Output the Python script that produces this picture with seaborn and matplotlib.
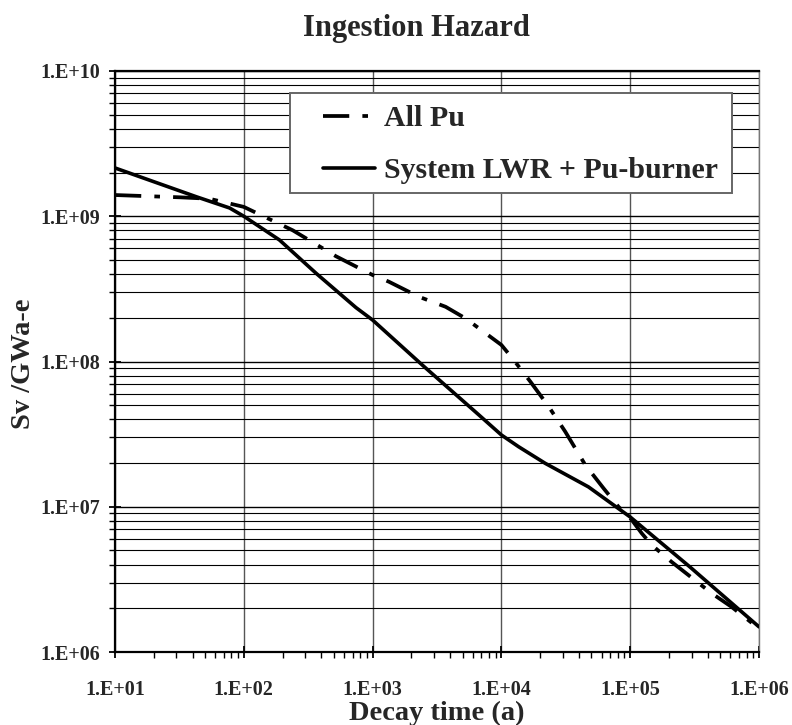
import numpy as np
import pandas as pd
import matplotlib
matplotlib.use("Agg")
import matplotlib.pyplot as plt
import seaborn as sns
from matplotlib.ticker import LogLocator, FixedLocator, FixedFormatter, NullFormatter
from matplotlib.patches import Rectangle

# ---- data ----
all_pu_time = [10, 20, 32, 54, 100, 240, 520, 1000, 1340, 2290, 3690, 5270,
               10000, 12400, 16800, 23300, 31300, 44800, 62100, 81100,
               103000, 123000, 147000, 209000, 428000, 610000, 1000000]
all_pu_sv = [1.40e9, 1.37e9, 1.35e9, 1.32e9, 1.16e9, 8.0e8, 5.3e8, 3.94e8, 3.54e8,
             2.79e8, 2.38e8, 1.98e8, 1.30e8, 1.03e8, 7.26e7, 4.89e7, 3.29e7,
             1.94e7, 1.34e7, 1.0e7, 8.1e6, 6.56e6, 5.45e6, 4.18e6, 2.54e6,
             2.05e6, 1.45e6]

system_time = [10, 43, 77.6, 100, 189, 364, 743, 1000, 2430, 6680, 10000, 13600,
               21900, 47400, 100000, 290000, 1000000]
system_sv = [2.15e9, 1.36e9, 1.14e9, 1.0e9, 6.87e8, 4.05e8, 2.35e8, 1.93e8, 9.46e7,
             4.29e7, 3.12e7, 2.59e7, 1.99e7, 1.37e7, 8.5e6, 3.86e6, 1.49e6]

series_names = ["All Pu", "System LWR + Pu-burner"]
x_ticks = [1e1, 1e2, 1e3, 1e4, 1e5, 1e6]
x_tick_labels = ["1.E+01", "1.E+02", "1.E+03", "1.E+04", "1.E+05", "1.E+06"]
y_ticks = [1e6, 1e7, 1e8, 1e9, 1e10]
y_tick_labels = ["1.E+06", "1.E+07", "1.E+08", "1.E+09", "1.E+10"]
title = "Ingestion Hazard"
x_label = "Decay time (a)"
y_label = "Sv /GWa-e"

df_pu = pd.DataFrame({"t": all_pu_time, "sv": all_pu_sv})
df_sys = pd.DataFrame({"t": system_time, "sv": system_sv})

sns.set_theme(style="white")
plt.rcParams["font.family"] = ["Liberation Serif", "DejaVu Serif"]
plt.rcParams["font.weight"] = "bold"

W, H = 792, 725
fig = plt.figure(figsize=(W / 100, H / 100), dpi=100)
L, R, T, B = 115, 759, 71, 652
ax = fig.add_axes([L / W, 1 - B / H, (R - L) / W, (B - T) / H])

sns.lineplot(data=df_pu, x="t", y="sv", ax=ax, color="black", lw=2.7, zorder=5)
l_pu = ax.lines[-1]
l_pu.set_dashes((7, 3.5, 1.5, 3.5))
l_pu.set_dash_capstyle("butt")
sns.lineplot(data=df_sys, x="t", y="sv", ax=ax, color="black", lw=2.6, zorder=5)
l_sys = ax.lines[-1]

ax.set_xscale("log")
ax.set_yscale("log")
ax.set_xlim(1e1, 1e6)
ax.set_ylim(1e6, 1e10)

ax.xaxis.set_major_locator(FixedLocator(x_ticks))
ax.xaxis.set_major_formatter(FixedFormatter(x_tick_labels))
ax.yaxis.set_major_locator(FixedLocator(y_ticks))
ax.yaxis.set_major_formatter(FixedFormatter(y_tick_labels))
ax.xaxis.set_minor_locator(LogLocator(base=10, subs=np.arange(2, 10), numticks=20))
ax.yaxis.set_minor_locator(LogLocator(base=10, subs=np.arange(2, 10), numticks=20))
ax.xaxis.set_minor_formatter(NullFormatter())
ax.yaxis.set_minor_formatter(NullFormatter())

ax.tick_params(axis="both", which="major", direction="inout", length=8, width=1.3,
               color="black", labelsize=14.5, bottom=True, left=True)
ax.tick_params(axis="x", which="major", pad=16)
ax.tick_params(axis="y", which="major", pad=7)
ax.tick_params(axis="both", which="minor", direction="out", length=4.5, width=1.0,
               color="black", bottom=True, left=True)
for lab in ax.get_xticklabels() + ax.get_yticklabels():
    lab.set_fontweight("bold")

ax.grid(False)
ax.grid(True, which="major", axis="x", color="#555555", lw=1.0)
ax.grid(True, which="major", axis="y", color="black", lw=1.0)
ax.grid(True, which="minor", axis="y", color="black", lw=0.8)
ax.set_axisbelow(True)

for side in ["left", "bottom", "top"]:
    ax.spines[side].set_color("black")
    ax.spines[side].set_linewidth(1.6)
ax.spines["right"].set_color("#777777")
ax.spines["right"].set_linewidth(1.0)

ax.set_xlabel("")
ax.set_ylabel("")

# legend box
bx0, bx1, by0, by1 = 290, 732, 93, 193
box = Rectangle(((bx0 - L) / (R - L), (B - by1) / (B - T)),
                (bx1 - bx0) / (R - L), (by1 - by0) / (B - T),
                transform=ax.transAxes, facecolor="white", edgecolor="#666666",
                lw=1.4, zorder=8)
ax.add_patch(box)
leg = ax.legend([l_pu, l_sys], series_names, loc="upper left",
                bbox_to_anchor=((323 - L) / (R - L), (B - 105) / (B - T)),
                frameon=False, handlelength=1.75,
                handletextpad=0.3, labelspacing=0.85, borderpad=0.0,
                borderaxespad=0.0, prop={"weight": "bold", "size": 21.5})
leg.set_zorder(9)

fig.text(416 / W, 1 - 36 / H, title, ha="center", va="baseline",
         fontsize=22, fontweight="bold")
fig.text(437 / W, 1 - 720 / H, x_label, ha="center", va="baseline",
         fontsize=20.5, fontweight="bold")
fig.text(24 / W, 1 - 364 / H, y_label, ha="center", va="center",
         rotation=90, fontsize=20.5, fontweight="bold")

fig.savefig("out.png", dpi=100)
